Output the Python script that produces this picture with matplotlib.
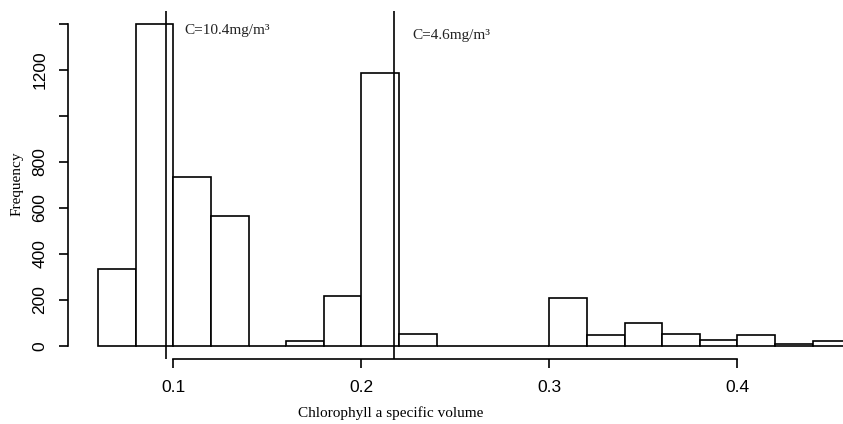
import matplotlib
matplotlib.use("Agg")
import matplotlib.pyplot as plt

# Histogram data (bin width 0.02)
bin_edges_left = [0.06, 0.08, 0.10, 0.12, 0.14, 0.16, 0.18, 0.20, 0.22, 0.24,
                  0.26, 0.28, 0.30, 0.32, 0.34, 0.36, 0.38, 0.40, 0.42, 0.44]
counts = [335, 1397, 735, 565, 0, 20, 216, 1184, 53, 0,
          0, 0, 206, 47, 100, 49, 26, 46, 7, 22]
bin_width = 0.02

vlines = [0.0961, 0.2174]
annotations = [("C=10.4mg/m³", 0.1057, 1372), ("C=4.6mg/m³", 0.2270, 1350)]

x_ticks = [0.1, 0.2, 0.3, 0.4]
x_tick_labels = ["0.1", "0.2", "0.3", "0.4"]
y_ticks = [0, 200, 400, 600, 800, 1000, 1200, 1400]
y_tick_labels = ["0", "200", "400", "600", "800", "", "1200", ""]

W, H = 843, 424
fig = plt.figure(figsize=(W / 100, H / 100), dpi=100)
ax = fig.add_axes([67.7 / W, 1 - 358.6 / H, 1 - 67.7 / W, (358.6 - 10.8) / H])

ax.bar(bin_edges_left, counts, width=bin_width, align="edge",
       facecolor="white", edgecolor="black", linewidth=1.2, zorder=2)

for v in vlines:
    ax.axvline(v, color="black", linewidth=1.2, zorder=3)

for txt, x, y in annotations:
    ax.text(x, y, txt, ha="left", va="center", fontsize=11,
            family="Liberation Serif", color="#222222")

ax.set_xlim(0.0438, 0.4562)
ax.set_ylim(-56, 1456)

for s in ["top", "right"]:
    ax.spines[s].set_visible(False)
ax.spines["left"].set_bounds(0, 1400)
ax.spines["bottom"].set_bounds(0.1, 0.4)
ax.spines["left"].set_linewidth(1.2)
ax.spines["bottom"].set_linewidth(1.2)

ax.set_xticks(x_ticks)
ax.set_xticklabels(x_tick_labels, family="Liberation Sans", fontsize=12.5)
ax.set_yticks(y_ticks)
ax.set_yticklabels(y_tick_labels, family="Liberation Sans", fontsize=12.5,
                   rotation=90, va="center")
ax.tick_params(axis="x", direction="out", length=6.5, width=1.2, pad=9)
ax.tick_params(axis="y", direction="out", length=6.5, width=1.2, pad=8)

fig.text(17 / W, 1 - 183.5 / H, "Frequency", rotation=90, ha="center",
         va="center", family="Liberation Serif", fontsize=11)
fig.text(391 / W, 1 - 413 / H, "Chlorophyll a specific volume", ha="center",
         va="center", family="Liberation Serif", fontsize=11)

fig.savefig("out.png", dpi=100)
